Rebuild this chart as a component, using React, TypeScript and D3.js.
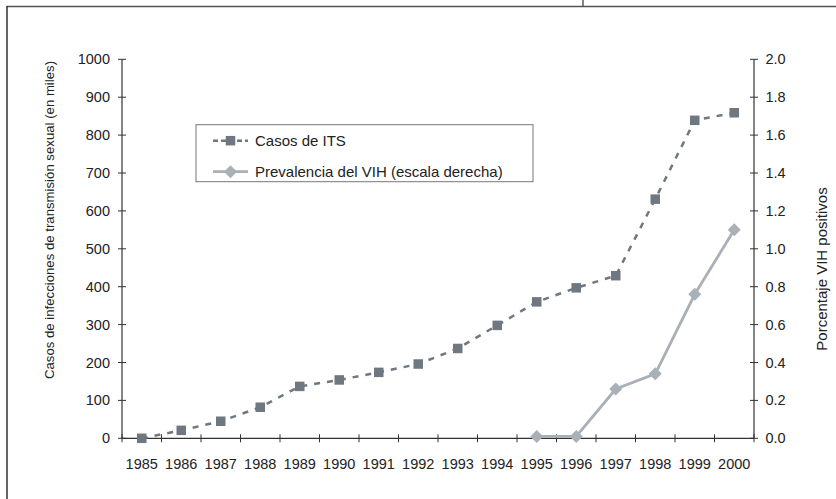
import React from "react";
import * as d3 from "d3";

const years = ["1985","1986","1987","1988","1989","1990","1991","1992","1993","1994","1995","1996","1997","1998","1999","2000"];
const itsValues = [0, 21, 45, 82, 137, 154, 174, 196, 237, 298, 360, 397, 429, 631, 839, 859];
const vihYears = ["1995","1996","1997","1998","1999","2000"];
const vihValues = [0.01, 0.01, 0.26, 0.34, 0.76, 1.10];
const leftTicks = [0,100,200,300,400,500,600,700,800,900,1000];
const rightTicks = [0,0.2,0.4,0.6,0.8,1.0,1.2,1.4,1.6,1.8,2.0];
const legendLabels = ["Casos de ITS", "Prevalencia del VIH (escala derecha)"];
const leftTitle = "Casos de infecciones de transmisión sexual (en miles)";
const rightTitle = "Porcentaje VIH positivos";

const W = 836, H = 499;
const X0 = 122, X1 = 754, Y0 = 438.3, Y1 = 59.3;
const FONT = "'Liberation Sans', Arial, Helvetica, sans-serif";
const darkC = "#6f7780";
const lightC = "#a9b0b8";
const axisC = "#333";
const textC = "#222";

export default function App() {
  const x = d3.scaleBand<string>().domain(years).range([X0, X1]).padding(0);
  const cx = (d: string) => (x(d) as number) + x.bandwidth() / 2;
  const yL = d3.scaleLinear().domain([0, 1000]).range([Y0, Y1]);
  const yR = d3.scaleLinear().domain([0, 2]).range([Y0, Y1]);

  const itsPts: [number, number][] = years.map((yr, i) => [cx(yr), yL(itsValues[i])]);
  const vihPts: [number, number][] = vihYears.map((yr, i) => [cx(yr), yR(vihValues[i])]);
  const line = d3.line();

  const boundaries = years.map((yr) => x(yr) as number).concat([X1]);
  const sq = 9.5;
  const dm = 6.5;
  const diamond = (px: number, py: number) =>
    `M${px},${py - dm}L${px + dm},${py}L${px},${py + dm}L${px - dm},${py}Z`;

  const leg = { x: 196, y: 124.7, w: 337, h: 57 };

  return (
    <svg width={W} height={H} style={{ position: "absolute", left: 0, top: 0 }}>
      <rect x={0} y={0} width={W} height={H} fill="#fff" />
      {/* frame */}
      <line x1={7} y1={6.5} x2={W} y2={6.5} stroke="#555" strokeWidth={1.3} />
      <line x1={7} y1={6} x2={7} y2={H} stroke="#111" strokeWidth={1.3} />
      <line x1={583} y1={0} x2={583} y2={6.5} stroke="#444" strokeWidth={1.3} />

      {/* left axis */}
      <line x1={X0} y1={Y1} x2={X0} y2={Y0} stroke={axisC} strokeWidth={1.2} />
      {leftTicks.map((t) => (
        <g key={"l" + t}>
          <line x1={X0 - 4} x2={X0 + 4} y1={yL(t)} y2={yL(t)} stroke={axisC} strokeWidth={1} />
          <text x={110} y={yL(t)} dy="0.35em" textAnchor="end" fontSize={14.5} fontFamily={FONT} fill={textC}>{t}</text>
        </g>
      ))}
      {/* right axis */}
      <line x1={X1} y1={Y1} x2={X1} y2={Y0} stroke={axisC} strokeWidth={1.2} />
      {rightTicks.map((t) => (
        <g key={"r" + t}>
          <line x1={X1 - 4} x2={X1 + 4} y1={yR(t)} y2={yR(t)} stroke={axisC} strokeWidth={1} />
          <text x={765.5} y={yR(t)} dy="0.35em" textAnchor="start" fontSize={14.5} fontFamily={FONT} fill={textC}>{t.toFixed(1)}</text>
        </g>
      ))}
      {/* x axis */}
      <line x1={X0} y1={Y0} x2={X1} y2={Y0} stroke={axisC} strokeWidth={1.2} />
      {boundaries.map((b, i) => (
        <line key={"b" + i} x1={b} x2={b} y1={Y0 - 4} y2={Y0 + 4} stroke={axisC} strokeWidth={1} />
      ))}
      {years.map((yr) => (
        <text key={"x" + yr} x={cx(yr)} y={464} dy="0.35em" textAnchor="middle" fontSize={14.5} fontFamily={FONT} fill={textC}>{yr}</text>
      ))}

      {/* axis titles */}
      <text transform={`translate(54,220) rotate(-90)`} textAnchor="middle" fontSize={13.2} fontFamily={FONT} fill={textC}>{leftTitle}</text>
      <text transform={`translate(827,269) rotate(-90)`} textAnchor="middle" fontSize={15} fontFamily={FONT} fill={textC}>{rightTitle}</text>

      {/* series */}
      <path d={line(itsPts) as string} fill="none" stroke={darkC} strokeWidth={2.5} strokeDasharray="6,7" />
      {itsPts.map(([px, py], i) => (
        <rect key={"s" + i} x={px - sq / 2} y={py - sq / 2} width={sq} height={sq} fill={darkC} />
      ))}
      <path d={line(vihPts) as string} fill="none" stroke={lightC} strokeWidth={2.8} />
      {vihPts.map(([px, py], i) => (
        <path key={"d" + i} d={diamond(px, py)} fill={lightC} />
      ))}

      {/* legend */}
      <rect x={leg.x} y={leg.y} width={leg.w} height={leg.h} fill="#fff" stroke="#777" strokeWidth={1} />
      <line x1={213} x2={248} y1={140.7} y2={140.7} stroke={darkC} strokeWidth={2.5} strokeDasharray="5,3" />
      <rect x={230.5 - sq / 2} y={140.7 - sq / 2} width={sq} height={sq} fill={darkC} />
      <text x={255} y={140.7} dy="0.35em" fontSize={15} fontFamily={FONT} fill={textC}>{legendLabels[0]}</text>
      <line x1={213} x2={248} y1={171.7} y2={171.7} stroke={lightC} strokeWidth={2.8} />
      <path d={diamond(230.5, 171.7)} fill={lightC} />
      <text x={255} y={171.7} dy="0.35em" fontSize={15} fontFamily={FONT} fill={textC}>{legendLabels[1]}</text>
    </svg>
  );
}
